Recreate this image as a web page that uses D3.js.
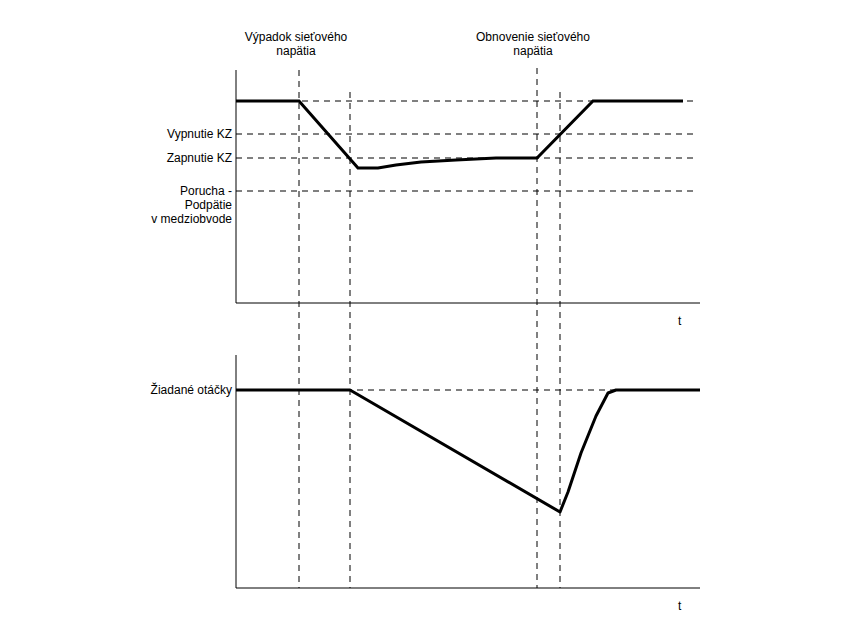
<!DOCTYPE html><html><head><meta charset="utf-8"><script src="https://cdn.jsdelivr.net/npm/d3@7"></script>
<style>body{margin:0;background:#fff}text{font-family:Arial,"Liberation Sans",sans-serif;font-size:12px;fill:#000}</style></head><body>
<svg id="c" width="850" height="638"></svg>
<script>
// time in arbitrary units (0..464), levels in arbitrary units
const eventTimes = [63, 114, 301, 324];
const eventTops = [233, 211, 235, 211];
const voltageLevels = [202, 169, 145, 112];
const voltageLabels = ["", "Vypnutie KZ", "Zapnutie KZ", "Porucha -\nPodpätie\nv medziobvode"];
const voltageT = [0, 63, 122, 142, 160, 185, 220, 260, 301, 357, 447];
const voltageV = [202, 202, 135, 135, 138, 141, 143, 145, 145, 202, 202];
const speedT = [0, 114, 324, 332, 345, 360, 372, 380, 464];
const speedV = [198, 198, 76, 96, 135, 172, 195, 198, 198];
const speedLevel = 198;

const svg = d3.select("#c");
const x = d3.scaleLinear().domain([0, 464]).range([236, 700]);
const yT = d3.scaleLinear().domain([0, 233]).range([303, 70]);
const yB = d3.scaleLinear().domain([0, 233]).range([588, 355]);
const dash = "6,5";

// vertical event lines
eventTimes.forEach((t, i) => {
  svg.append("line").attr("x1", x(t)).attr("x2", x(t)).attr("y1", yT(eventTops[i])).attr("y2", 588)
    .attr("stroke", "#000").attr("stroke-dasharray", dash).attr("stroke-width", 1);
});
// horizontal levels top
voltageLevels.forEach((v, i) => {
  svg.append("line").attr("x1", x(0)).attr("x2", x(462)).attr("y1", yT(v)).attr("y2", yT(v))
    .attr("stroke", "#000").attr("stroke-dasharray", dash);
  const lines = voltageLabels[i].split("\n").filter(s => s);
  lines.forEach((s, j) => svg.append("text").attr("x", x(0) - 4).attr("y", yT(v) + 4 + j * 14).attr("text-anchor", "end").text(s));
});
svg.append("line").attr("x1", x(0)).attr("x2", x(464)).attr("y1", yB(speedLevel)).attr("y2", yB(speedLevel))
  .attr("stroke", "#000").attr("stroke-dasharray", dash);
svg.append("text").attr("x", x(0) - 4).attr("y", yB(speedLevel) + 4).attr("text-anchor", "end").text("Žiadané otáčky");

// axes
[[yT, 0], [yB, 0]].forEach(([y]) => {
  svg.append("line").attr("x1", x(0)).attr("x2", x(0)).attr("y1", y(233)).attr("y2", y(0)).attr("stroke", "#000");
  svg.append("line").attr("x1", x(0)).attr("x2", x(464)).attr("y1", y(0)).attr("y2", y(0)).attr("stroke", "#000");
  svg.append("text").attr("x", x(442)).attr("y", y(0) + 22).text("t");
});

// curves
const lineT = d3.line().x(d => x(d[0])).y(d => yT(d[1])).curve(d3.curveLinear);
svg.append("path").attr("d", lineT(voltageT.map((t, i) => [t, voltageV[i]])))
  .attr("fill", "none").attr("stroke", "#000").attr("stroke-width", 3);
const lineB = d3.line().x(d => x(d[0])).y(d => yB(d[1]));
svg.append("path").attr("d", lineB(speedT.map((t, i) => [t, speedV[i]])))
  .attr("fill", "none").attr("stroke", "#000").attr("stroke-width", 3).attr("stroke-linejoin", "round");

// event labels
[["Výpadok sieťového", "napätia", 296], ["Obnovenie sieťového", "napätia", 533]].forEach(([a, b, cx]) => {
  svg.append("text").attr("x", cx).attr("y", 41).attr("text-anchor", "middle").text(a);
  svg.append("text").attr("x", cx).attr("y", 55).attr("text-anchor", "middle").text(b);
});
</script></body></html>
